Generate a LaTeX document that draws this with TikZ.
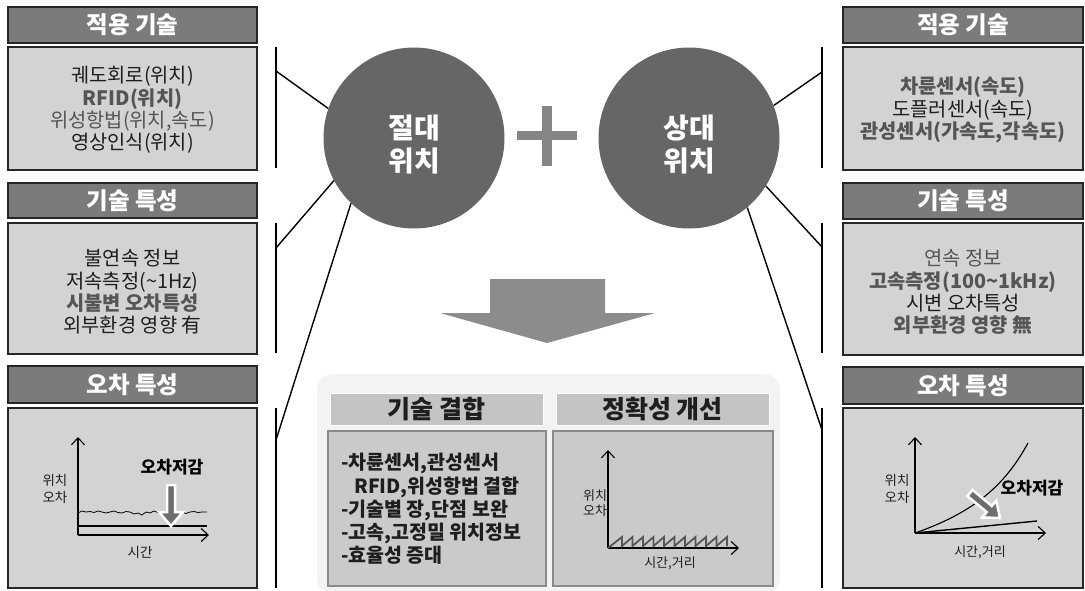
\documentclass[tikz,border=0pt]{standalone}
\usepackage{fontspec}
\setmainfont{Noto Sans CJK KR}
\usetikzlibrary{arrows.meta}
\definecolor{hdrgray}{HTML}{7B7B7B}
\definecolor{boxgray}{HTML}{D3D3D3}
\definecolor{circgray}{HTML}{666666}
\definecolor{txtgray}{HTML}{555555}
\definecolor{txtdark}{HTML}{1E1E1E}
\definecolor{arrgray}{HTML}{8C8C8C}
\definecolor{plusgray}{HTML}{858585}
\definecolor{backgray}{HTML}{F3F3F3}
\definecolor{hdrtwo}{HTML}{C4C4C4}
\definecolor{boxtwo}{HTML}{CACACA}
\definecolor{edgetwo}{HTML}{8A8A8A}
\definecolor{blockarr}{HTML}{6E6E6E}
\begin{document}
\begin{tikzpicture}[x=1pt,y=-1pt,
  hdr/.style={draw=black!85, line width=1.2pt, fill=hdrgray, text=white,
    font=\fontsize{23.5}{26}\selectfont\bfseries, inner sep=0pt},
  cbox/.style={draw=black!85, line width=1.2pt, fill=boxgray, inner sep=0pt},
  ctext/.style={align=center, text=txtdark, font=\fontsize{19.8}{22.3}\selectfont, inner sep=0pt},
  circ/.style={circle, fill=circgray, minimum size=181pt, inner sep=0pt},
  ctitle/.style={align=center, text=white, font=\fontsize{28}{33}\selectfont\bfseries, inner sep=0pt},
  brk/.style={line width=1.4pt, black},
  hdrb/.style={draw=white, line width=1pt, fill=hdrtwo, text=txtdark,
    font=\fontsize{25}{28}\selectfont\bfseries, inner sep=0pt},
  cboxb/.style={draw=edgetwo, line width=2pt, fill=boxtwo, inner sep=0pt},
  axisarrow/.style={line width=1.1pt, -{Straight Barb[length=7pt,width=13pt]}},
  small/.style={font=\fontsize{13.5}{17}\selectfont, text=txtdark, align=center, inner sep=0pt},
  emph/.style={font=\fontsize{17}{20}\selectfont\bfseries, text=black, inner sep=0pt},
  blockarrow/.style={draw=white, line width=2.5pt, fill=blockarr, line join=miter}
]
\useasboundingbox (0,0) rectangle (1085,590);

% ---------- left panels ----------
\node[hdr, minimum width=249pt, minimum height=36pt] (lh1) at (132.5,25) {적용 기술};
\node[cbox, minimum width=249pt, minimum height=123pt] (lc1) at (132.5,108.5) {};
\node[ctext] (lt1) at (132.5,110) {궤도회로(위치)\\ {\color{txtgray}\bfseries RFID(위치)}\\ {\color{txtgray}위성항법(위치,속도)}\\ 영상인식(위치)};

\node[hdr, minimum width=249pt, minimum height=35pt] (lh2) at (132.5,200.5) {기술 특성};
\node[cbox, minimum width=249pt, minimum height=131pt] (lc2) at (132.5,288.5) {};
\node[ctext] (lt2) at (132.5,292) {불연속 정보\\ 저속측정(\textasciitilde 1Hz)\\ {\color{txtgray}\bfseries 시불변 오차특성}\\ 외부환경 영향 有};

\node[hdr, minimum width=249pt, minimum height=37pt] (lh3) at (132.5,384.5) {오차 특성};
\node[cbox, minimum width=249pt, minimum height=180pt] (lc3) at (132.5,498) {};

% ---------- right panels ----------
\node[hdr, minimum width=240pt, minimum height=36pt] (rh1) at (963,25) {적용 기술};
\node[cbox, minimum width=240pt, minimum height=123pt] (rc1) at (963,108.5) {};
\node[ctext] (rt1) at (963,110) {{\color{txtgray}\bfseries 차륜센서(속도)}\\ 도플러센서(속도)\\ {\color{txtgray}\bfseries 관성센서(가속도,각속도)}};

\node[hdr, minimum width=240pt, minimum height=36pt] (rh2) at (963,201) {기술 특성};
\node[cbox, minimum width=240pt, minimum height=132pt] (rc2) at (963,289) {};
\node[ctext] (rt2) at (963,292) {{\color{txtgray}연속 정보}\\ {\color{txtgray}\bfseries 고속측정(100\textasciitilde 1kHz)}\\ 시변 오차특성\\ {\color{txtgray}\bfseries 외부환경 영향 無}};

\node[hdr, minimum width=240pt, minimum height=37pt] (rh3) at (963,385.5) {오차 특성};
\node[cbox, minimum width=240pt, minimum height=180pt] (rc3) at (963,498) {};

% ---------- circles ----------
\node[circ] (lcirc) at (414,138) {};
\node[circ] (rcirc) at (689,138) {};
\node[ctitle] (ltitle) at (414,144) {절대\\위치};
\node[ctitle] (rtitle) at (689,144) {상대\\위치};

% plus sign
\fill[plusgray] (517,131) rectangle (577,140);
\fill[plusgray] (542,106) rectangle (552,166);

% ---------- brackets ----------
\coordinate (lb1t) at (276,47);  \coordinate (lb1b) at (276,168); \coordinate (lb1m) at (276,71);
\coordinate (lb2t) at (276,223); \coordinate (lb2b) at (276,353); \coordinate (lb2m) at (276,248);
\coordinate (lb3t) at (276,408); \coordinate (lb3b) at (276,588); \coordinate (lb3m) at (276,440);
\coordinate (rb1t) at (822,47);  \coordinate (rb1b) at (822,168); \coordinate (rb1m) at (822,72);
\coordinate (rb2t) at (822,223); \coordinate (rb2b) at (822,353); \coordinate (rb2m) at (822,247);
\coordinate (rb3t) at (822,408); \coordinate (rb3b) at (822,588); \coordinate (rb3m) at (822,430);
\draw[brk] (lb1t) -- (lb1b);  \draw[brk] (lb1m) -- (lcirc.161);
\draw[brk] (lb2t) -- (lb2b);  \draw[brk] (lb2m) -- (lcirc.208);
\draw[brk] (lb3t) -- (lb3b);  \draw[brk] (lb3m) -- (lcirc.226);
\draw[brk] (rb1t) -- (rb1b);  \draw[brk] (rb1m) -- (rcirc.21);
\draw[brk] (rb2t) -- (rb2b);  \draw[brk] (rb2m) -- (rcirc.328);
\draw[brk] (rb3t) -- (rb3b);  \draw[brk] (rb3m) -- (rcirc.310);

% ---------- big down arrow ----------
\fill[arrgray] (490,279) -- (605,279) -- (605,313) -- (655,313) -- (547,343) -- (440,313) -- (490,313) -- cycle;

% ---------- bottom group ----------
\fill[backgray, rounded corners=16pt] (317,374) rectangle (780,594);
\node[hdrb, minimum width=213pt, minimum height=32pt] (bh1) at (436.5,409) {기술 결합};
\node[cboxb, minimum width=218pt, minimum height=155pt] (bc1) at (437,508.5) {};
\node[hdrb, minimum width=213pt, minimum height=32pt] (bh2) at (662.5,409) {정확성 개선};
\node[cboxb, minimum width=220pt, minimum height=155pt] (bc2) at (663,508.5) {};
\node[anchor=west, align=left, text=txtdark, font=\fontsize{19.5}{23.2}\selectfont\bfseries, inner sep=0pt] (bt1) at (341,509)
  {-차륜센서,관성센서\\ \hspace*{13pt}RFID,위성항법 결합\\ -기술별 장,단점 보완\\ -고속,고정밀 위치정보\\ -효율성 증대};

% bottom chart
\coordinate (bo) at (608,548);
\coordinate (by) at (608,450);
\coordinate (bx) at (739,548);
\draw[axisarrow] (bo) -- (by);
\draw[axisarrow] (bo) -- (bx);
\draw[line width=1.8pt, txtgray, line join=miter]
  (bo) -- (622,537) -- (622,546) -- (632.5,537) -- (632.5,546) -- (643,537) -- (643,546)
  -- (653.5,537) -- (653.5,546) -- (664,537) -- (664,546) -- (674.5,537) -- (674.5,546)
  -- (685,537) -- (685,546) -- (695.5,537) -- (695.5,546) -- (706,537) -- (706,546)
  -- (716.5,537) -- (716.5,546) -- (727,537) -- (727,546);
\node[small, font=\fontsize{13}{15}\selectfont] (blab) at (595,503) {위치\\오차};
\node[small, font=\fontsize{13}{15}\selectfont] (bxl) at (670,563) {시간,거리};

% ---------- left chart ----------
\coordinate (lo) at (78,535);
\coordinate (ly) at (78,437);
\coordinate (lx) at (209,535);
\draw[axisarrow] (lo) -- (ly);
\draw[axisarrow] (lo) -- (lx);
\draw[line width=2.6pt] (78,526) -- (207,526);
\draw[line width=0.8pt] (78,513) -- (82,511) -- (86,512) -- (90,511.5) -- (94,512.5) -- (98,511) -- (102,512)
  -- (106,513) -- (110,512) -- (114,511) -- (118,512.5) -- (122,513) -- (126,511.5) -- (130,512)
  -- (134,514) -- (138,513) -- (142,515) -- (146,512) -- (150,513) -- (154,511) -- (158,512.5)
  -- (162,514) -- (166,513) -- (170,515) -- (174,513) -- (178,515) -- (182,512) -- (186,513.5)
  -- (190,512) -- (194,511.5) -- (198,512.5) -- (202,512) -- (207,512);
\draw[blockarrow] (167,485) -- (167,512) -- (159,512) -- (171,526) -- (183,512) -- (175,512) -- (175,485) -- cycle;
\node[small] (llab) at (55,489) {위치\\오차};
\node[emph] (lred) at (172,467) {오차저감};
\node[small] (lxl) at (140,552) {시간};

% ---------- right chart ----------
\coordinate (ro) at (915,533);
\coordinate (ry) at (915,437);
\coordinate (rx) at (1046,533);
\draw[axisarrow] (ro) -- (ry);
\draw[axisarrow] (ro) -- (rx);
\draw[line width=1.1pt] (ro) .. controls (975,512) and (1005,485) .. (1028,443);
\draw[line width=1.4pt] (ro) -- (1037,521);
\draw[blockarrow] (967.4,496.1) -- (986.7,512.1) -- (982.2,517.5) -- (1000,518) -- (996.3,500.6) -- (991.8,506) -- (972.6,489.9) -- cycle;
\node[small] (rlab) at (897,489) {위치\\오차};
\node[emph] (rred) at (1032,488) {오차저감};
\node[small, font=\fontsize{13}{15}\selectfont] (rxl) at (980,552) {시간,거리};
\end{tikzpicture}
\end{document}
